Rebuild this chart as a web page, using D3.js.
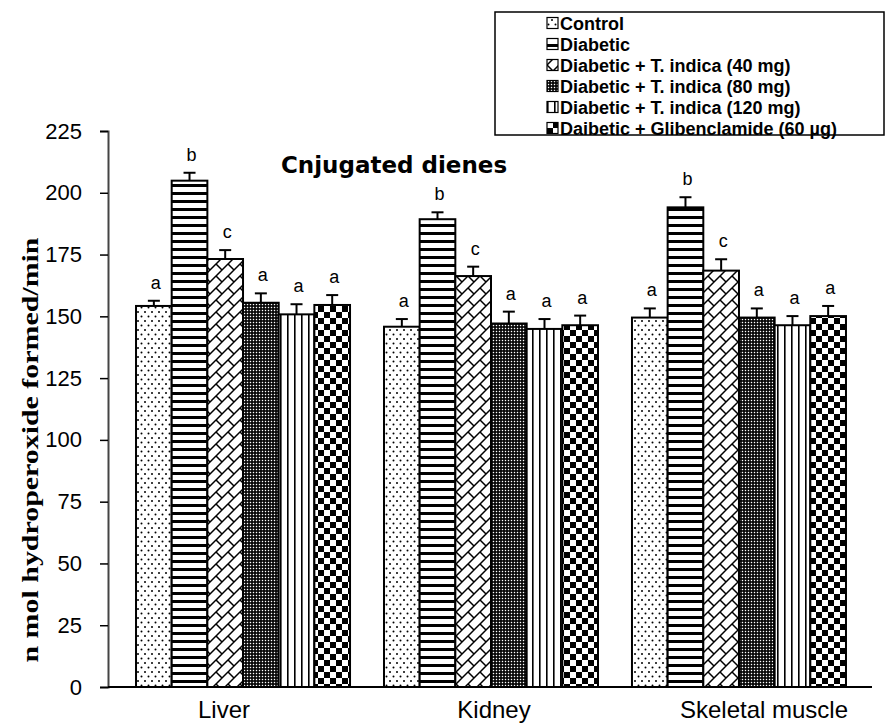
<!DOCTYPE html>
<html lang="en">
<head>
<meta charset="UTF-8">
<title>Cnjugated dienes</title>
<script src="https://d3js.org/d3.v7.min.js"></script>
<style>
  body { margin: 0; background: #fff; }
  svg { display: block; }
  text { font-family: "Liberation Sans", Arial, sans-serif; }
</style>
</head>
<body>
<svg id="chart"></svg>
<script>
// values
const categories = ["Liver", "Kidney", "Skeletal muscle"];
const groups = [
  "Control",
  "Diabetic",
  "Diabetic + T. indica (40 mg)",
  "Diabetic + T. indica (80 mg)",
  "Diabetic + T. indica (120 mg)",
  "Daibetic + Glibenclamide (60 µg)"
];
const control  = [154.2, 145.8, 149.5];
const diabetic = [204.9, 189.3, 194.1];
const ti40     = [173.2, 166.3, 168.5];
const ti80     = [155.5, 147.1, 149.5];
const ti120    = [150.8, 144.9, 146.4];
const glib     = [154.6, 146.4, 150.1];

const controlErr  = [2.1, 3.1, 3.7];
const diabeticErr = [3.2, 2.8, 4.1];
const ti40Err     = [3.6, 3.8, 4.6];
const ti80Err     = [3.8, 4.8, 3.7];
const ti120Err    = [4.1, 4.0, 3.7];
const glibErr     = [4.0, 3.9, 4.1];

const letters = ["a", "b", "c", "a", "a", "a"];
const yTicks = [0, 25, 50, 75, 100, 125, 150, 175, 200, 225];

const means = [control, diabetic, ti40, ti80, ti120, glib];
const errs = [controlErr, diabeticErr, ti40Err, ti80Err, ti120Err, glibErr];
const fills = ["dots", "hstripes", "brick", "grid", "vlines", "checker"];

const rows = [];
categories.forEach((c, ci) => {
  groups.forEach((g, gi) => {
    rows.push({cat: c, group: g, value: means[gi][ci], err: errs[gi][ci], letter: letters[gi], fill: fills[gi]});
  });
});

const width = 887, height = 724;
const svg = d3.select("#chart").attr("width", width).attr("height", height);

// fill patterns
const defs = svg.append("defs");
function pattern(id, w, h) {
  const p = defs.append("pattern").attr("id", id)
    .attr("patternUnits", "userSpaceOnUse").attr("width", w).attr("height", h);
  p.append("rect").attr("width", w).attr("height", h).attr("fill", "#fff");
  return p;
}
let p = pattern("dots", 7, 9);
p.append("circle").attr("cx", 1.5).attr("cy", 1.5).attr("r", 1).attr("fill", "#000");
p.append("circle").attr("cx", 5).attr("cy", 6).attr("r", 1).attr("fill", "#000");

p = pattern("hstripes", 8, 8);
p.append("rect").attr("width", 8).attr("height", 3).attr("fill", "#000");

p = pattern("brick", 12, 12);
p.append("path").attr("d", "M-3,3L3,-3M-1,13L13,-1M9,15L15,9M0,0L6,6")
  .attr("stroke", "#000").attr("stroke-width", 1.5).attr("fill", "none");

p = pattern("grid", 3, 3);
p.select("rect").attr("fill", "#000");
p.append("rect").attr("x", 0.8).attr("y", 0.8).attr("width", 1.4).attr("height", 1.4).attr("fill", "#fff");

p = pattern("vlines", 7, 7);
p.append("rect").attr("width", 1.6).attr("height", 7).attr("fill", "#000");

p = pattern("checker", 12, 12);
p.append("rect").attr("width", 6).attr("height", 6).attr("fill", "#000");
p.append("rect").attr("x", 6).attr("y", 6).attr("width", 6).attr("height", 6).attr("fill", "#000");

// scales
const x = d3.scaleBand().domain(categories).range([108, 874])
  .paddingInner(0.137).paddingOuter(0.113);
const x1 = d3.scaleBand().domain(groups).range([0, x.bandwidth()]);
const y = d3.scaleLinear().domain([0, 225]).range([687, 131]);
const xLabel = d3.scalePoint().domain(categories).range([224, 764]);

// y axis
const yAxis = svg.append("g").attr("transform", "translate(108,0)")
  .call(d3.axisLeft(y).tickValues(yTicks).tickSize(8).tickPadding(18));
yAxis.select(".domain").attr("stroke", "#444").attr("stroke-width", 2);
yAxis.selectAll(".tick line").attr("stroke", "#000").attr("stroke-width", 1.5);
yAxis.selectAll(".tick text").attr("font-size", 22).attr("fill", "#000")
  .attr("font-family", "'Liberation Sans', Arial, sans-serif");

svg.append("text")
  .attr("transform", "translate(38," + (450) + ") rotate(-90)")
  .attr("text-anchor", "middle")
  .attr("textLength", 425).attr("lengthAdjust", "spacingAndGlyphs")
  .style("font-family", "'Liberation Serif', 'Times New Roman', serif")
  .style("font-weight", "bold").style("font-size", "24px")
  .text("n mol hydroperoxide formed/min");

// bars
const bars = svg.append("g");
bars.selectAll("rect").data(rows).enter().append("rect")
  .attr("x", d => x(d.cat) + x1(d.group))
  .attr("y", d => y(d.value))
  .attr("width", x1.bandwidth())
  .attr("height", d => y(0) - y(d.value))
  .attr("fill", d => "url(#" + d.fill + ")")
  .attr("stroke", "#000").attr("stroke-width", 2);

// error bars (upper only)
const eb = svg.append("g").attr("stroke", "#000").attr("stroke-width", 2);
rows.forEach(d => {
  const cx = x(d.cat) + x1(d.group) + x1.bandwidth() / 2;
  eb.append("line").attr("x1", cx).attr("x2", cx).attr("y1", y(d.value)).attr("y2", y(d.value + d.err));
  eb.append("line").attr("x1", cx - 6).attr("x2", cx + 6).attr("y1", y(d.value + d.err)).attr("y2", y(d.value + d.err));
});

// significance letters
svg.append("g").selectAll("text").data(rows).enter().append("text")
  .attr("x", d => x(d.cat) + x1(d.group) + x1.bandwidth() / 2 + 2)
  .attr("y", d => y(d.value + d.err) - 12)
  .attr("text-anchor", "middle")
  .attr("font-size", 18)
  .text(d => d.letter);

// x baseline
svg.append("line").attr("x1", x.range()[0]).attr("x2", x.range()[1] - 2)
  .attr("y1", y(0)).attr("y2", y(0)).attr("stroke", "#000").attr("stroke-width", 2);

svg.append("g").selectAll("text").data(categories).enter().append("text")
  .attr("x", d => xLabel(d)).attr("y", 718)
  .attr("text-anchor", "middle").attr("font-size", 24)
  .text(d => d);

// title
svg.append("text").attr("x", 394).attr("y", 173).attr("text-anchor", "middle")
  .style("font-family", "'DejaVu Sans', Verdana, sans-serif")
  .style("font-weight", "bold").style("font-size", "23px")
  .text("Cnjugated dienes");

// legend
const lg = svg.append("g");
lg.append("rect").attr("x", 495).attr("y", 12).attr("width", 389).attr("height", 123)
  .attr("fill", "#fff").attr("stroke", "#000").attr("stroke-width", 1.5);
const item = lg.selectAll("g.item").data(groups).enter().append("g").attr("class", "item")
  .attr("transform", (d, i) => "translate(547," + (23 + i * 21) + ")");
item.append("rect").attr("x", 0).attr("y", -5.5).attr("width", 11).attr("height", 11)
  .attr("fill", (d, i) => "url(#" + fills[i] + ")").attr("stroke", "#000").attr("stroke-width", 1.2);
item.append("text").attr("x", 13).attr("y", 6.5)
  .attr("font-size", 18).attr("font-weight", "bold")
  .text(d => d);
</script>
</body>
</html>
